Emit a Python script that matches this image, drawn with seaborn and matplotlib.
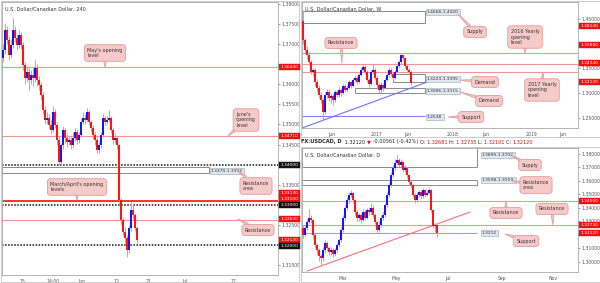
import numpy as np
import pandas as pd
import matplotlib
matplotlib.use("Agg")
import matplotlib.pyplot as plt
import seaborn as sns
from matplotlib.patches import Rectangle

# ---------------- data: 4H panel (left) ----------------
h4_first_open = 1.3665
h4_close = [1.3685, 1.3735, 1.3710, 1.3673, 1.3698, 1.3735, 1.3715, 1.3698, 1.3723, 1.3698,
            1.3648, 1.3616, 1.3631, 1.3611, 1.3623, 1.3616, 1.3641, 1.3611, 1.3598, 1.3573,
            1.3536, 1.3511, 1.3516, 1.3499, 1.3486, 1.3531, 1.3499, 1.3461, 1.3406, 1.3449,
            1.3486, 1.3466, 1.3456, 1.3461, 1.3449, 1.3466, 1.3481, 1.3461, 1.3474, 1.3506,
            1.3516, 1.3511, 1.3531, 1.3506, 1.3491, 1.3474, 1.3461, 1.3436, 1.3449, 1.3474,
            1.3516, 1.3506, 1.3511, 1.3516, 1.3486, 1.3461, 1.3466, 1.3449, 1.3312, 1.3262,
            1.3232, 1.3217, 1.3187, 1.3242, 1.3287, 1.3274, 1.3242, 1.3212]
h4_high = [1.3700, 1.3752, 1.3745, 1.3720, 1.3712, 1.3765, 1.3745, 1.3725, 1.3735, 1.3730,
           1.3705, 1.3655, 1.3645, 1.3640, 1.3635, 1.3640, 1.3660, 1.3650, 1.3620, 1.3605,
           1.3580, 1.3545, 1.3530, 1.3525, 1.3510, 1.3545, 1.3538, 1.3505, 1.3470, 1.3455,
           1.3495, 1.3492, 1.3475, 1.3472, 1.3470, 1.3480, 1.3492, 1.3488, 1.3482, 1.3515,
           1.3530, 1.3525, 1.3542, 1.3535, 1.3512, 1.3498, 1.3480, 1.3468, 1.3458, 1.3482,
           1.3525, 1.3522, 1.3520, 1.3535, 1.3522, 1.3490, 1.3475, 1.3472, 1.3452, 1.3318,
           1.3270, 1.3245, 1.3225, 1.3250, 1.3307, 1.3300, 1.3280, 1.3248]
h4_low = [1.3655, 1.3675, 1.3700, 1.3660, 1.3665, 1.3690, 1.3705, 1.3685, 1.3690, 1.3688,
          1.3635, 1.3600, 1.3605, 1.3585, 1.3600, 1.3595, 1.3605, 1.3595, 1.3585, 1.3560,
          1.3525, 1.3500, 1.3500, 1.3488, 1.3475, 1.3480, 1.3490, 1.3450, 1.3398, 1.3400,
          1.3440, 1.3455, 1.3445, 1.3448, 1.3440, 1.3442, 1.3460, 1.3452, 1.3455, 1.3468,
          1.3500, 1.3502, 1.3505, 1.3498, 1.3482, 1.3465, 1.3450, 1.3428, 1.3430, 1.3442,
          1.3468, 1.3498, 1.3500, 1.3505, 1.3478, 1.3452, 1.3455, 1.3440, 1.3305, 1.3250,
          1.3222, 1.3205, 1.3170, 1.3180, 1.3235, 1.3265, 1.3235, 1.3205]
h4_tick_pos = [9.5, 25, 39.5, 56.5, 73, 91, 115]
h4_tick_lab = ["15", "14:00", "Jun", "12", "21", "Jul", "17"]
h4_yticks = [1.315, 1.325, 1.335, 1.345, 1.350, 1.355, 1.360, 1.370, 1.375, 1.380]
h4_red_levels = [1.3644, 1.3471, 1.3263]
h4_strong_levels = [1.3313, 1.3310]
h4_psych_levels = [1.3400, 1.3300, 1.3200]
h4_zone = (1.3379, 1.3393)

# ---------------- data: weekly panel (top right) ----------------
w_first_open = 1.4450
w_close = [1.4076, 1.3874, 1.3773, 1.3631, 1.3429, 1.3470, 1.3227, 1.3106, 1.2965, 1.2864,
           1.2621, 1.2965, 1.3025, 1.2904, 1.2944, 1.2864, 1.3025, 1.2965, 1.3066, 1.3005,
           1.3146, 1.3066, 1.3106, 1.3227, 1.3146, 1.3268, 1.3308, 1.3227, 1.3369, 1.3470,
           1.3530, 1.3429, 1.3268, 1.3187, 1.3429, 1.3470, 1.3308, 1.3167, 1.3066, 1.3167,
           1.3106, 1.3268, 1.3369, 1.3470, 1.3389, 1.3308, 1.3429, 1.3551, 1.3631, 1.3773,
           1.3712, 1.3551, 1.3470, 1.3429, 1.3212]
w_high = [1.4689, 1.4120, 1.3950, 1.3830, 1.3680, 1.3520, 1.3500, 1.3280, 1.3160, 1.3020,
          1.2900, 1.3020, 1.3080, 1.3090, 1.3000, 1.2990, 1.3070, 1.3060, 1.3120, 1.3110,
          1.3190, 1.3180, 1.3160, 1.3260, 1.3250, 1.3300, 1.3360, 1.3340, 1.3400, 1.3530,
          1.3590, 1.3570, 1.3460, 1.3300, 1.3460, 1.3590, 1.3500, 1.3340, 1.3200, 1.3220,
          1.3200, 1.3300, 1.3400, 1.3540, 1.3500, 1.3420, 1.3460, 1.3580, 1.3680, 1.3793,
          1.3780, 1.3740, 1.3600, 1.3500, 1.3470]
w_low = [1.4000, 1.3820, 1.3700, 1.3580, 1.3380, 1.3350, 1.3150, 1.3050, 1.2900, 1.2800,
         1.2461, 1.2580, 1.2900, 1.2850, 1.2800, 1.2760, 1.2830, 1.2920, 1.2930, 1.2950,
         1.2980, 1.3020, 1.3030, 1.3080, 1.3100, 1.3120, 1.3230, 1.3180, 1.3200, 1.3340,
         1.3440, 1.3390, 1.3220, 1.3120, 1.3160, 1.3390, 1.3260, 1.3100, 1.3000, 1.3020,
         1.3050, 1.3080, 1.3240, 1.3340, 1.3350, 1.3260, 1.3280, 1.3400, 1.3520, 1.3600,
         1.3660, 1.3500, 1.3440, 1.3390, 1.3165]
w_tick_pos = [14.5, 37, 52.5, 75, 91.5, 114.5, 130]
w_tick_lab = ["Jun", "2017", "Jun", "2018", "Jun", "2019", "Jun"]
w_yticks = [1.25, 1.30, 1.35, 1.45]
w_red_levels = [1.3814, 1.3588, 1.3434]
w_supply = (1.4420, 1.4668)
w_demand1 = (1.3223, 1.3395)
w_demand2 = (1.3006, 1.3115)
w_support = 1.2538
w_trend_x = [-0.5, 63.5]
w_trend_y = [1.2298, 1.3247]

# ---------------- data: daily panel (bottom right) ----------------
d_first_open = 1.3250
d_close = [1.3200, 1.3252, 1.3296, 1.3326, 1.3311, 1.3200, 1.3126, 1.3089, 1.3044, 1.3030,
           1.3089, 1.3141, 1.3104, 1.3074, 1.3089, 1.3059, 1.3089, 1.3126, 1.3163, 1.3237,
           1.3326, 1.3400, 1.3459, 1.3496, 1.3511, 1.3459, 1.3370, 1.3326, 1.3348, 1.3311,
           1.3370, 1.3326, 1.3385, 1.3370, 1.3400, 1.3348, 1.3296, 1.3237, 1.3274, 1.3326,
           1.3348, 1.3422, 1.3496, 1.3570, 1.3644, 1.3696, 1.3733, 1.3756, 1.3719, 1.3741,
           1.3681, 1.3696, 1.3644, 1.3593, 1.3570, 1.3496, 1.3459, 1.3496, 1.3519, 1.3489,
           1.3533, 1.3496, 1.3511, 1.3533, 1.3385, 1.3267, 1.3274, 1.3212]
d_high = [1.3275, 1.3270, 1.3320, 1.3390, 1.3345, 1.3320, 1.3215, 1.3140, 1.3100, 1.3060,
          1.3110, 1.3160, 1.3155, 1.3120, 1.3110, 1.3100, 1.3105, 1.3140, 1.3180, 1.3255,
          1.3345, 1.3420, 1.3480, 1.3520, 1.3535, 1.3520, 1.3470, 1.3385, 1.3365, 1.3360,
          1.3390, 1.3385, 1.3400, 1.3410, 1.3440, 1.3420, 1.3360, 1.3305, 1.3300, 1.3345,
          1.3370, 1.3440, 1.3515, 1.3590, 1.3665, 1.3715, 1.3760, 1.3793, 1.3770, 1.3765,
          1.3750, 1.3720, 1.3705, 1.3655, 1.3610, 1.3580, 1.3510, 1.3515, 1.3535, 1.3530,
          1.3545, 1.3540, 1.3530, 1.3545, 1.3540, 1.3395, 1.3290, 1.3274]
d_low = [1.3180, 1.3190, 1.3240, 1.3280, 1.3290, 1.3180, 1.3100, 1.3060, 1.3010, 1.2968,
         1.3010, 1.3070, 1.3080, 1.3050, 1.3055, 1.3040, 1.3045, 1.3075, 1.3110, 1.3150,
         1.3225, 1.3310, 1.3385, 1.3440, 1.3480, 1.3440, 1.3350, 1.3305, 1.3300, 1.3290,
         1.3300, 1.3310, 1.3315, 1.3350, 1.3355, 1.3330, 1.3280, 1.3220, 1.3225, 1.3260,
         1.3310, 1.3335, 1.3410, 1.3480, 1.3555, 1.3630, 1.3680, 1.3720, 1.3700, 1.3705,
         1.3665, 1.3670, 1.3625, 1.3575, 1.3550, 1.3480, 1.3440, 1.3445, 1.3480, 1.3470,
         1.3475, 1.3480, 1.3485, 1.3500, 1.3370, 1.3250, 1.3225, 1.3185]
d_tick_pos = [20, 46.5, 72.5, 99.5, 125]
d_tick_lab = ["Mar", "May", "Jul", "Sep", "Nov"]
d_yticks = [1.30, 1.31, 1.33, 1.34, 1.35, 1.36, 1.37, 1.38]
d_red_levels = [1.3450, 1.3273]
d_supply = (1.3702, 1.3899)
d_res_area = (1.3570, 1.3607)
d_support = 1.3212
d_trend_x = [2, 83.5]
d_trend_y = [1.2933, 1.3370]

# ---------------- styling ----------------
sns.set_theme(style="white")
plt.rcParams["font.family"] = ["DejaVu Sans"]

W, H = 600, 283
fig = plt.figure(figsize=(6, 2.83), dpi=100)
fig.patch.set_facecolor("white")

UP, DN, WICK = "#1414ff", "#ff1414", "#b0b0b0"
LRED, SRED = "#f29494", "#ff3030"
GRID_TXT = "#555555"


def prect(x0, y0, x1, y1):
    return [x0 / W, 1 - y1 / H, (x1 - x0) / W, (y1 - y0) / H]


def candles(ax, first_open, close, high, low, min_h):
    opens = [first_open] + list(close[:-1])
    df = pd.DataFrame({"o": opens, "h": high, "l": low, "c": close})
    df["i"] = np.arange(len(df))
    up = df["c"] >= df["o"]
    ax.vlines(df["i"], df["l"], df["h"], color=WICK, lw=0.75, zorder=3)
    lo = np.minimum(df["o"], df["c"])
    hgt = np.maximum((df["c"] - df["o"]).abs(), min_h)
    ax.bar(df["i"], hgt, bottom=lo, width=0.95,
           color=np.where(up, UP, DN), linewidth=0, zorder=4)


def setup(ax, ylim, yticks, tpos, tlab):
    ax.set_xlim(-0.5, 137.5)
    ax.set_ylim(*ylim)
    ax.yaxis.tick_right()
    ax.set_yticks(yticks)
    ax.set_yticklabels([f"{v:.5f}" for v in yticks])
    ax.set_xticks(tpos)
    ax.set_xticklabels(tlab)
    ax.tick_params(axis="both", labelsize=3.3, colors=GRID_TXT, length=1.5,
                   width=0.4, pad=1.2)
    for s in ax.spines.values():
        s.set_color("#a8a8a8")
        s.set_linewidth(0.6)
    ax.set_facecolor("white")
    ax.grid(False)


def zone(ax, x0, x1, lo, hi):
    ax.add_patch(Rectangle((x0, lo), x1 - x0, hi - lo, fc="white", ec="#8a8a8a",
                           lw=0.7, zorder=1.5))


# ---------------- left: 4H ----------------
axL = fig.add_axes(prect(2, 2, 278, 275))
setup(axL, (1.3125, 1.3805), h4_yticks, h4_tick_pos, h4_tick_lab)
for v in h4_red_levels:
    axL.axhline(v, color=LRED, lw=0.8, zorder=2)
for v in h4_strong_levels:
    axL.axhline(v, color=SRED, lw=0.7, zorder=2)
for v in h4_psych_levels:
    axL.axhline(v, color="#111111", lw=1.1, ls=(0, (1, 1)), zorder=2)
zone(axL, -0.5, 103, *h4_zone)
candles(axL, h4_first_open, h4_close, h4_high, h4_low, 0.0002)

# ---------------- top right: weekly ----------------
axW = fig.add_axes(prect(302, 2, 578, 128))
setup(axW, (1.2298, 1.4843), w_yticks, w_tick_pos, w_tick_lab)
for v in w_red_levels:
    axW.axhline(v, color=LRED, lw=0.8, zorder=2)
zone(axW, -0.5, 61, *w_supply)
zone(axW, 45, 61, *w_demand1)
zone(axW, 26, 61, *w_demand2)
axW.hlines(w_support, -0.5, 61, color="#8080ff", lw=0.8, zorder=2)
sns.lineplot(x=w_trend_x, y=w_trend_y, ax=axW, color="#7070ff", lw=0.8, zorder=2)
candles(axW, w_first_open, w_close, w_high, w_low, 0.0015)

# ---------------- bottom right: daily ----------------
axD = fig.add_axes(prect(302, 148, 578, 272))
setup(axD, (1.2926, 1.3844), d_yticks, d_tick_pos, d_tick_lab)
for v in d_red_levels:
    axD.axhline(v, color=LRED, lw=0.8, zorder=2)
zone(axD, -0.5, 87, *d_supply)
zone(axD, -0.5, 87, *d_res_area)
axD.hlines(d_support, -0.5, 87, color="#9a9aff", lw=0.8, zorder=2)
sns.lineplot(x=d_trend_x, y=d_trend_y, ax=axD, color="#ff7070", lw=0.8, zorder=2)
candles(axD, d_first_open, d_close, d_high, d_low, 0.0006)

# ---------------- overlay for annotations ----------------
ov = fig.add_axes([0, 0, 1, 1], zorder=10)
ov.set_xlim(0, W)
ov.set_ylim(H, 0)
ov.axis("off")
ov.patch.set_visible(False)

for (x0, y0, x1, y1) in [(0.5, 0.5, 299, 282), (300.5, 0.5, 599.5, 137), (300.5, 147, 599.5, 282)]:
    ov.add_patch(Rectangle((x0, y0), x1 - x0, y1 - y0, fill=False, ec="#c4c4c4", lw=0.6))

TFS = 3.6
ov.text(5, 9, "U.S. Dollar/Canadian Dollar, 240", fontsize=TFS, color="#333", va="center")
ov.text(305, 9, "U.S. Dollar/Canadian Dollar, W", fontsize=TFS, color="#333", va="center")
ov.text(305, 155, "U.S. Dollar/Canadian Dollar, D", fontsize=TFS, color="#333", va="center")


def tag(x, y, text, bg):
    ov.text(x, y, text, fontsize=3.2, color="white", ha="left", va="center",
            bbox=dict(boxstyle="square,pad=0.3", fc=bg, ec=bg, lw=0.3))


RED_BG, BLK_BG = "#ee1111", "#111111"
for y, t, c in [(67, "1.36440", RED_BG), (136, "1.34710", RED_BG), (165, "1.34000", BLK_BG),
                (193, "1.33130", RED_BG), (199, "1.33100", RED_BG), (205, "1.33000", BLK_BG),
                (219, "1.32630", RED_BG), (240, "1.32120", RED_BG), (246, "1.32000", BLK_BG)]:
    tag(280.5, y, t, c)
for y, t in [(26, "1.38140"), (45, "1.35880"), (63, "1.34340"), (82, "1.32120")]:
    tag(580.5, y, t, RED_BG)
for y, t in [(201, "1.34500"), (225, "1.32730"), (233, "1.32120")]:
    tag(580.5, y, t, RED_BG)


def zlabel(x, y, text):
    ov.text(x, y, text, fontsize=3.2, color="#333", ha="left", va="center",
            bbox=dict(boxstyle="square,pad=0.3", fc="#dfe6ee", ec="#9aa8b6", lw=0.4))


zlabel(211, 171, "1.3379-1.3393")
zlabel(427, 12, "1.4668-1.4420")
zlabel(427, 79, "1.3223-1.3395")
zlabel(427, 91, "1.3006-1.3115")
zlabel(427, 117, "1.2538")
zlabel(482, 155, "1.3899-1.3702")
zlabel(482, 180, "1.3598-1.3559")
zlabel(482, 233, "1.3212")

CFILL, CEDGE = "#f7caca", "#e49b9b"


def callout(cx, cy, text, px, py):
    ov.annotate(text, xy=(px, py), xytext=(cx, cy), fontsize=3.5, color="#333",
                ha="center", va="center", multialignment="left",
                bbox=dict(boxstyle="round,pad=0.6,rounding_size=0.6", fc=CFILL, ec=CEDGE, lw=0.6),
                arrowprops=dict(arrowstyle="wedge,tail_width=0.5,shrink_factor=0.5",
                                fc=CFILL, ec=CEDGE, lw=0.6, shrinkA=0, shrinkB=0),
                annotation_clip=False)


callout(105, 53, "May's opening\nlevel", 105, 67)
callout(246, 120, "June's\nopening\nlevel", 228, 136)
callout(77, 187, "March/April's opening\nlevels", 77, 200)
callout(256, 186, "Resistance\narea", 237, 170)
callout(258, 230, "Resistance", 238, 219)

callout(475, 32, "Supply", 458, 14)
callout(525, 37, "2016 Yearly\nopening\nlevel", 525, 53)
callout(341, 43, "Resistance", 342, 63)
callout(542, 90, "2017 Yearly\nopening\nlevel", 543, 72)
callout(485, 82, "Demand", 460, 80)
callout(489, 101, "Demand", 460, 92)
callout(471, 117, "Support", 448, 117)

callout(530, 165, "Supply", 512, 156)
callout(536, 185, "Resistance\narea", 512, 181)
callout(506, 213, "Resistance", 506, 201)
callout(552, 209, "Resistance", 553, 225)
callout(526, 241, "Support", 505, 234)

# header line (TradingView style)
segs = [("FX:USDCAD, D ", "#222"), (" 1.32120 ", "#222"), ("\u25bc", "#dd1111"),
        (" -0.00561 (-0.42%) ", "#222"), ("O: ", "#222"), ("1.32681 ", "#cc1111"),
        ("H: ", "#222"), ("1.32735 ", "#cc1111"), ("L: ", "#222"), ("1.32101 ", "#cc1111"),
        ("C: ", "#222"), ("1.32120", "#cc1111")]
renderer = fig.canvas.get_renderer()
x = 301
for s, col in segs:
    t = ov.text(x, 142, s, fontsize=3.6, color=col, ha="left", va="center",
                fontweight="bold" if s.startswith("FX") else "normal")
    x += t.get_window_extent(renderer).width

fig.savefig("out.png", dpi=100, facecolor="white")
